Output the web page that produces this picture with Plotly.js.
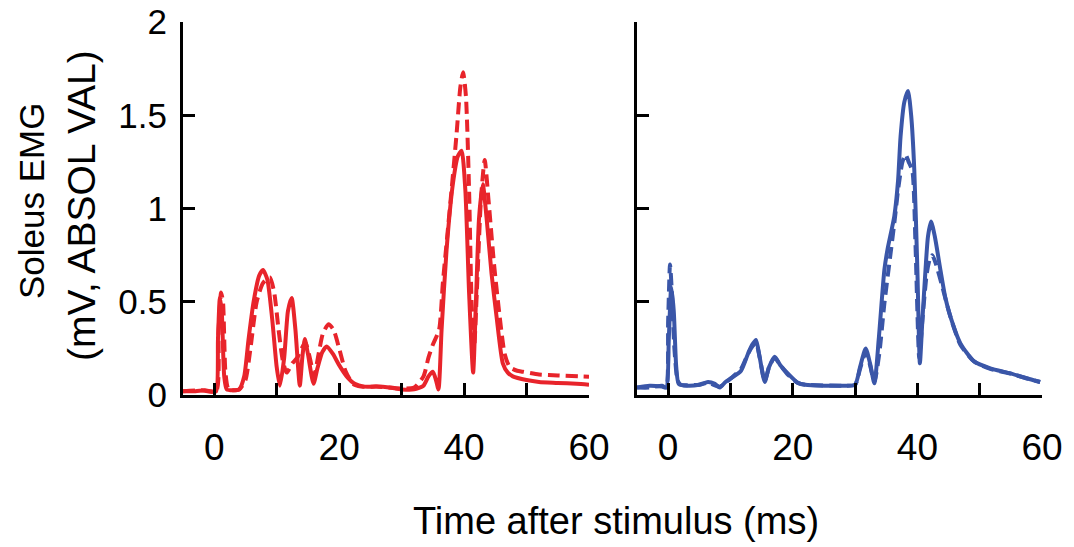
<!DOCTYPE html>
<html>
<head>
<meta charset="utf-8">
<script src="https://cdn.plot.ly/plotly-3.0.1.min.js"></script>
<style>html,body{margin:0;padding:0;background:#fff}#chart{width:1074px;height:547px}</style>
</head>
<body>
<div id="chart"></div>
<script>
// Left panel (red)
const leftSolidT = [-5,-3,-1.5,-0.5,0.3,0.6,0.9,1.2,1.6,2.0,3,4,4.8,5.5,6.3,7.2,7.8,8.5,9.3,10.0,10.5,11.2,11.8,12.4,13.0,13.7,14.1,14.5,15.0,15.9,16.5,17.3,18.0,19.0,20.0,21.2,22.5,24,26,28,30,32,33.5,34.3,35.0,35.5,35.9,36.4,37.2,38.2,39.0,39.6,40.2,40.8,41.45,41.9,42.4,43.0,43.6,44.4,45.2,46.2,47.0,47.8,50,52,55,58,60];
const leftSolidV = [0.02,0.02,0.025,0.02,0.02,0.3,0.52,0.45,0.1,0.03,0.025,0.03,0.1,0.3,0.5,0.64,0.67,0.62,0.4,0.15,0.05,0.2,0.45,0.52,0.35,0.05,0.2,0.3,0.22,0.06,0.14,0.23,0.26,0.22,0.16,0.1,0.06,0.045,0.045,0.04,0.03,0.03,0.05,0.1,0.125,0.08,0.03,0.35,0.78,1.13,1.28,1.31,1.1,0.55,0.12,0.5,0.95,1.13,0.95,0.65,0.42,0.17,0.12,0.1,0.08,0.07,0.065,0.06,0.055];
const leftDashT = [-5,-2,0.3,0.7,1.1,1.4,1.8,2.3,4,5.0,5.8,6.8,7.8,8.9,9.6,10.3,11.0,11.6,12.5,13.3,14.0,14.6,15.3,16.0,16.6,17.4,18.3,19.1,20.0,21.0,22.2,23.5,26,30,32,33.5,34.3,35.0,36.0,36.6,37.3,38.0,38.8,39.4,39.85,40.3,40.8,41.2,41.6,42.1,42.7,43.3,43.9,44.8,45.7,46.5,47.3,48.5,49.4,52,55,60];
const leftDashV = [0.02,0.025,0.02,0.35,0.55,0.5,0.12,0.03,0.03,0.08,0.25,0.5,0.6,0.63,0.55,0.35,0.18,0.12,0.17,0.2,0.25,0.28,0.2,0.1,0.2,0.33,0.38,0.35,0.25,0.13,0.06,0.045,0.045,0.035,0.04,0.1,0.2,0.27,0.35,0.6,0.85,1.10,1.40,1.65,1.73,1.6,1.1,0.5,0.25,0.6,1.05,1.26,1.05,0.7,0.42,0.22,0.15,0.13,0.125,0.11,0.105,0.098];
// Right panel (blue)
const rightSolidT = [-5,-3,-1,-0.3,0.1,0.5,0.9,1.3,1.7,3,5,6.4,7.5,8.3,9.2,10.1,11.7,12.8,13.5,14.1,14.7,15.5,16.2,17.1,18.0,19.2,20.8,22,25,28,30,30.8,31.7,32.4,33.1,33.8,34.7,35.2,36.3,36.9,37.3,37.9,38.5,39.0,39.5,40.0,40.4,40.8,41.3,41.7,42.2,42.8,43.7,44.5,45.3,46.9,49.1,51.7,54.9,57.5,59.7];
const rightSolidV = [0.04,0.05,0.045,0.04,0.3,0.58,0.45,0.15,0.06,0.05,0.055,0.07,0.06,0.04,0.07,0.09,0.13,0.22,0.27,0.295,0.2,0.07,0.15,0.205,0.16,0.116,0.066,0.055,0.05,0.05,0.055,0.15,0.25,0.17,0.063,0.3,0.67,0.78,0.96,1.15,1.385,1.57,1.63,1.5,1.21,0.67,0.17,0.4,0.67,0.85,0.93,0.85,0.67,0.52,0.42,0.277,0.18,0.143,0.116,0.09,0.07];
const rightDashT = [-5,-3,-1,-0.3,0.0,0.3,0.6,1.0,1.5,2,5,6.4,8.3,10.1,11.7,12.8,13.5,14.1,14.7,15.5,16.2,17.1,18.0,19.2,20.8,22,28,30,30.8,31.7,32.4,33.1,33.9,34.7,35.7,36.4,36.9,37.6,38.1,38.6,39.2,39.7,40.3,40.8,41.5,42.0,42.4,43.0,44.0,45.3,46.9,49.1,51.7,54.9,57.5,59.7];
const rightDashV = [0.04,0.04,0.05,0.04,0.4,0.7,0.55,0.25,0.08,0.055,0.055,0.065,0.045,0.09,0.14,0.22,0.26,0.28,0.2,0.075,0.15,0.2,0.16,0.11,0.065,0.055,0.05,0.055,0.14,0.23,0.16,0.07,0.225,0.49,0.76,0.95,1.1,1.25,1.29,1.25,1.2,0.8,0.2,0.4,0.65,0.73,0.75,0.7,0.58,0.42,0.27,0.18,0.14,0.115,0.09,0.07];
// Ticks
const xTickVals = [0,10,20,30,40,50,60];
const xTickText = ["0","","20","","40","","60"];
const yTickVals = [0,0.5,1,1.5,2];
const yTickText = ["0","0.5","1","1.5","2"];

const RED = '#e8242b', BLUE = '#3a56a8';
const FONT = 'Liberation Sans, Arial, sans-serif';
const lw = 4;
const dash = '12px,6px';
const shapeSpline = {shape:'spline', smoothing:0.6};

const traces = [
  {x:leftDashT, y:leftDashV, xaxis:'x', yaxis:'y', mode:'lines', line:Object.assign({color:RED,width:lw,dash:dash},shapeSpline)},
  {x:leftSolidT, y:leftSolidV, xaxis:'x', yaxis:'y', mode:'lines', line:Object.assign({color:RED,width:lw},shapeSpline)},
  {x:rightDashT, y:rightDashV, xaxis:'x2', yaxis:'y2', mode:'lines', line:Object.assign({color:BLUE,width:lw,dash:dash},shapeSpline)},
  {x:rightSolidT, y:rightSolidV, xaxis:'x2', yaxis:'y2', mode:'lines', line:Object.assign({color:BLUE,width:lw},shapeSpline)}
];

const W = 1074, H = 547;
const yDom = [1-395/H, 1-22/H];
const common = {showline:true, linecolor:'#000', linewidth:3, ticks:'inside', ticklen:12, tickwidth:3, tickcolor:'#000',
  showgrid:false, zeroline:false};
const xa = Object.assign({}, common, {range:[-5,60], tickmode:'array', tickvals:xTickVals, ticktext:xTickText, ticklabelstandoff:18,
  tickfont:{family:FONT,size:37,color:'#000'}});
const ya = Object.assign({}, common, {range:[0,2], tickmode:'array', tickvals:yTickVals, ticktext:yTickText, domain:yDom, ticklabelstandoff:6,
  tickfont:{family:FONT,size:35,color:'#000'}});

const layout = {
  width:W, height:H, margin:{l:0,r:0,t:0,b:0}, showlegend:false,
  paper_bgcolor:'#fff', plot_bgcolor:'rgba(0,0,0,0)',
  font:{family:FONT,color:'#000'},
  xaxis:Object.assign({}, xa, {domain:[183/W, 589/W], anchor:'y'}),
  yaxis:Object.assign({}, ya, {anchor:'x'}),
  xaxis2:Object.assign({}, xa, {domain:[637/W, 1042/W], anchor:'y2'}),
  yaxis2:Object.assign({}, ya, {anchor:'x2', showticklabels:false}),
  annotations:[
    {text:'Soleus EMG', xref:'paper', yref:'paper', x:31/W, y:1-201/H, showarrow:false, textangle:-90, font:{family:FONT,size:35,color:'#000'}, xanchor:'center', yanchor:'middle'},
    {text:'(mV, ABSOL VAL)', xref:'paper', yref:'paper', x:81/W, y:1-206/H, showarrow:false, textangle:-90, font:{family:FONT,size:39,color:'#000'}, xanchor:'center', yanchor:'middle'},
    {text:'Time after stimulus (ms)', xref:'paper', yref:'paper', x:616/W, y:1-521/H, showarrow:false, font:{family:FONT,size:38,color:'#000'}, xanchor:'center', yanchor:'middle'}
  ]
};
Plotly.newPlot('chart', traces, layout, {displayModeBar:false, staticPlot:true});
</script>
</body>
</html>
